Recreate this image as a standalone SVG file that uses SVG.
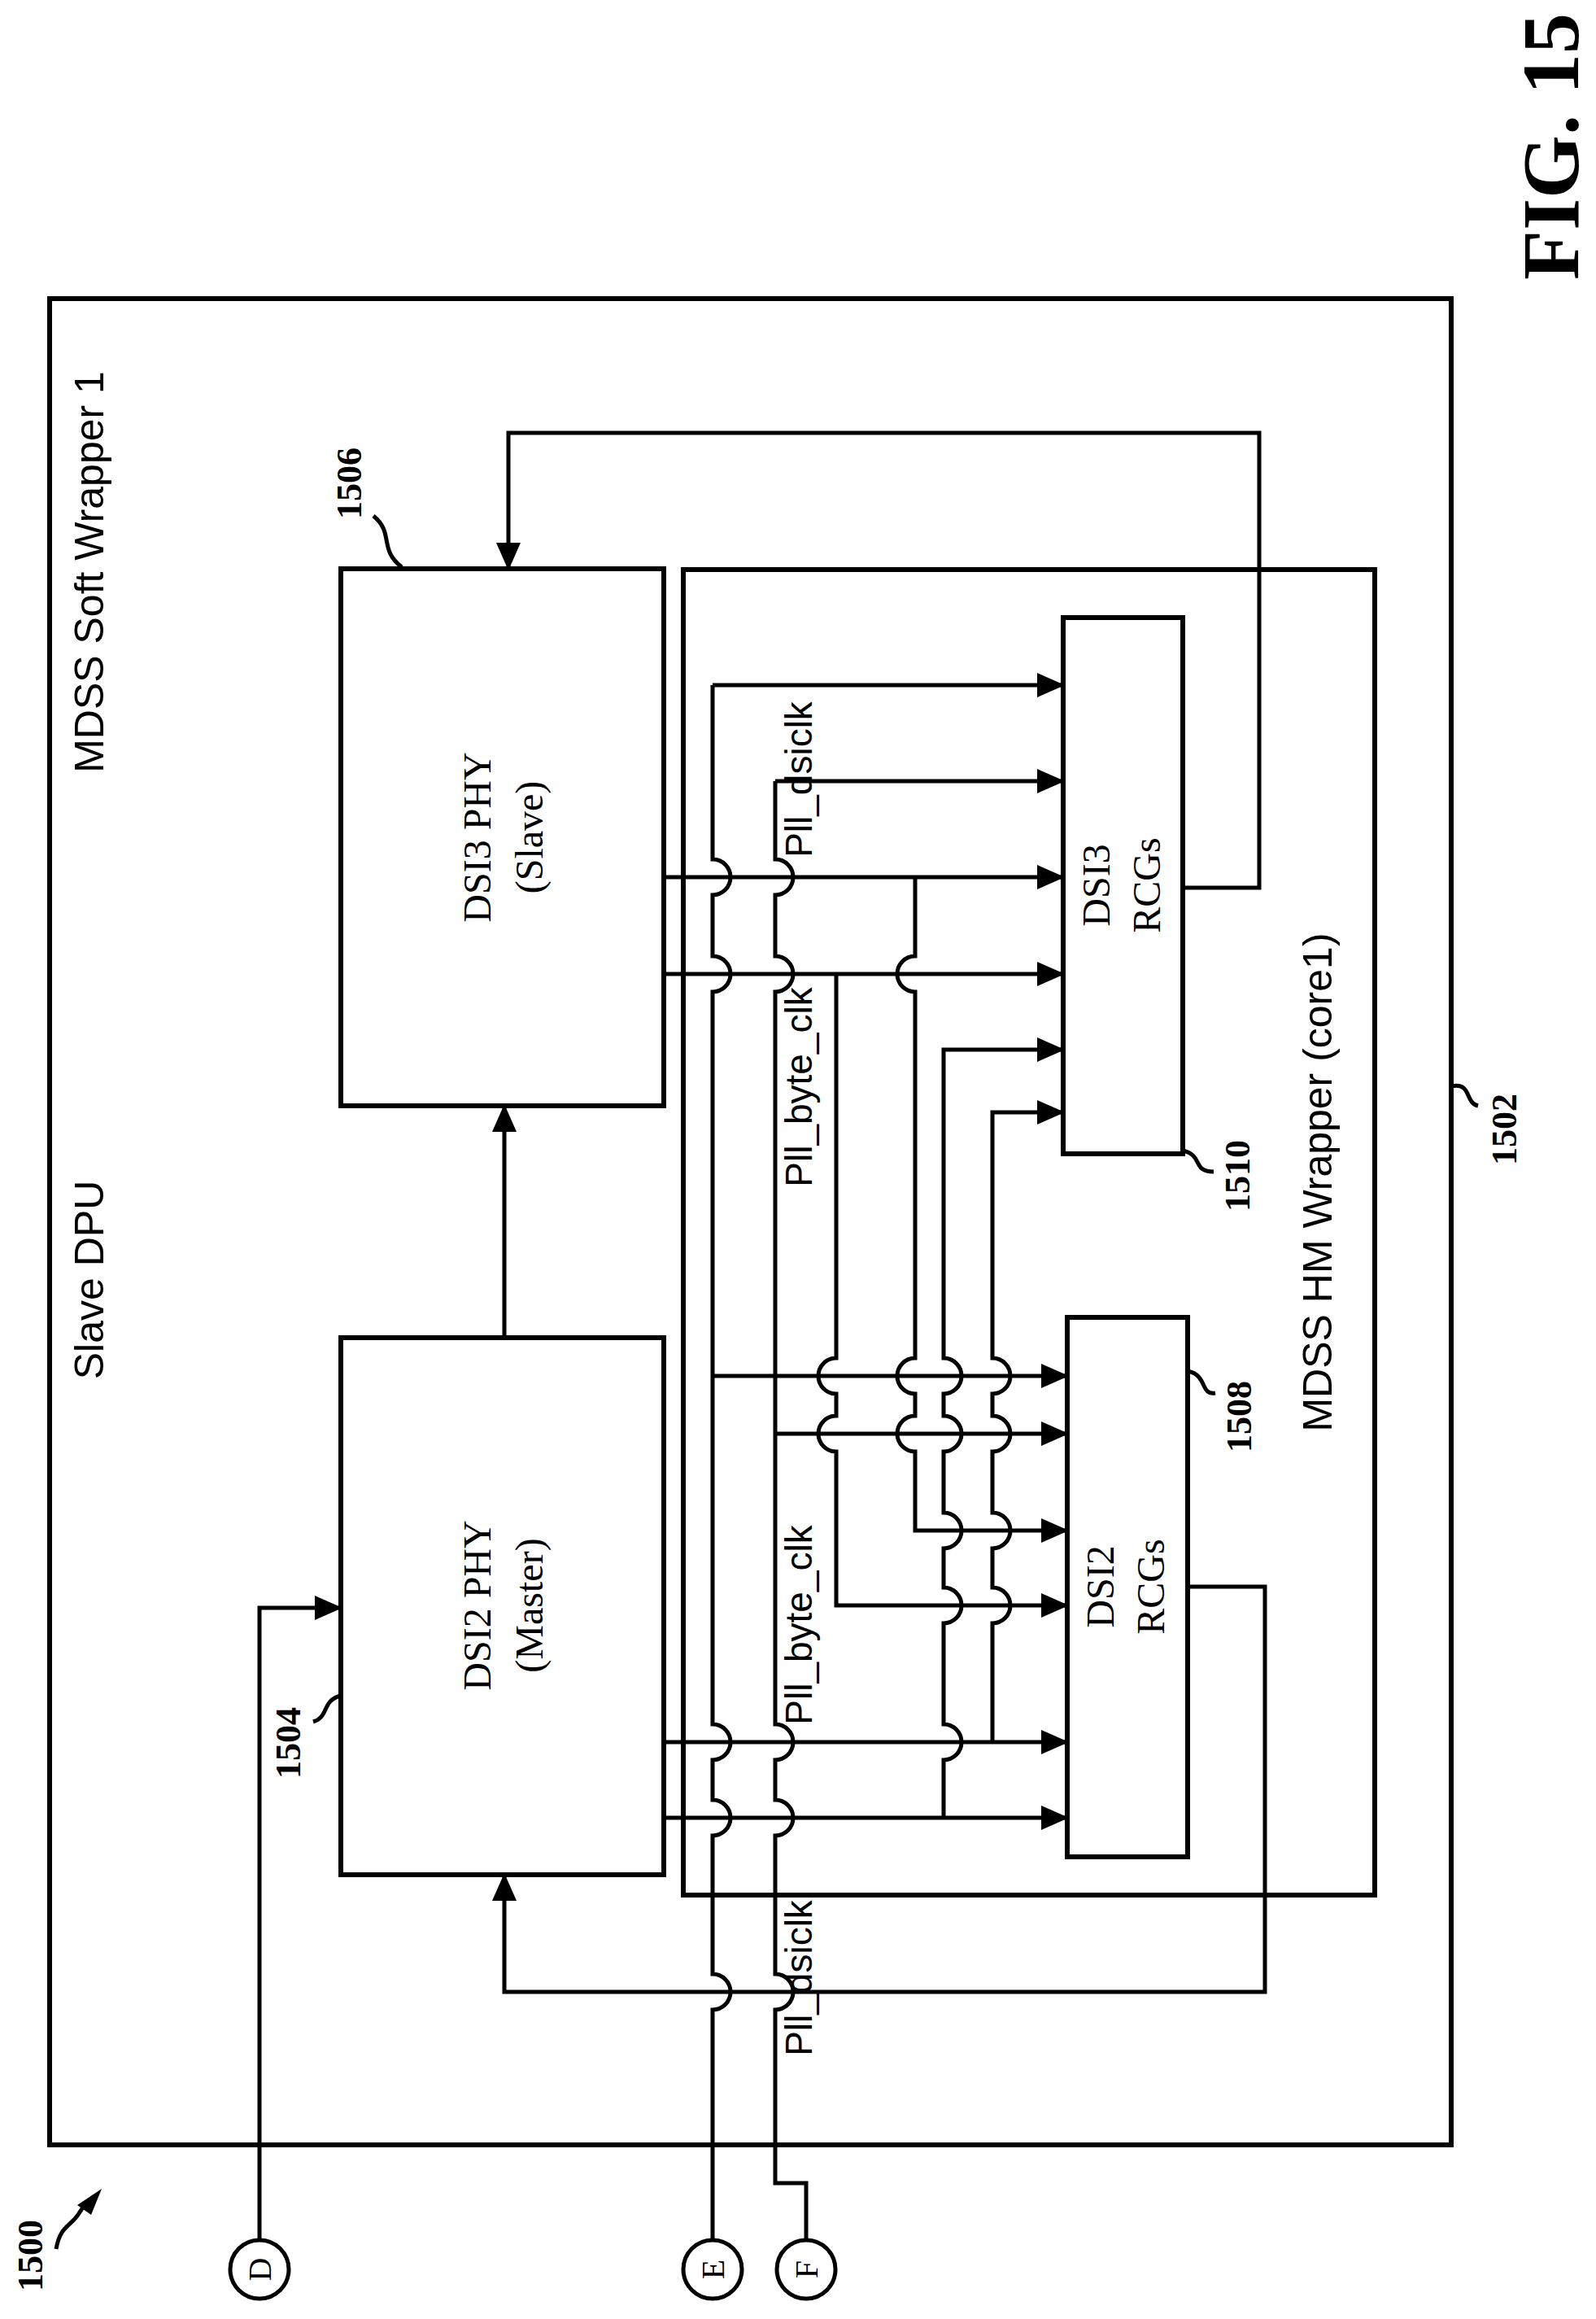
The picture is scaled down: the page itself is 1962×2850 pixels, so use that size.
<svg xmlns="http://www.w3.org/2000/svg" width="1962" height="2850" viewBox="0 0 1962 2850">
<style>
.b{fill:none;stroke:#000;stroke-width:6}
.w{fill:none;stroke:#000;stroke-width:5}
.a{fill:none;stroke:#000;stroke-width:5;marker-end:url(#ah)}
.s{font-family:'Liberation Sans',Arial,sans-serif;font-size:50px;text-anchor:middle}
.p{font-family:'Liberation Sans',Arial,sans-serif;font-size:46px;text-anchor:middle}
.t{font-family:'Liberation Serif','Times New Roman',serif;font-size:48px;text-anchor:middle}
.n{font-family:'Liberation Serif','Times New Roman',serif;font-size:44px;font-weight:bold;text-anchor:middle}
</style>
<defs>
<marker id="ah" markerUnits="userSpaceOnUse" markerWidth="34" markerHeight="30" refX="32" refY="15" orient="auto"><path d="M0,0 L34,15 L0,30 Z" fill="#000"/></marker>
</defs>
<rect width="1962" height="2850" fill="#fff"/>
<g id="outer"><rect class="b" x="61" y="367" width="1723" height="2269"/>
<text class="s" transform="translate(127,703) rotate(-90)">MDSS Soft Wrapper 1</text>
<text class="s" transform="translate(127,1573) rotate(-90)">Slave DPU</text></g>
<g id="hm"><rect class="b" x="840" y="700" width="850" height="1629"/>
<text class="s" transform="translate(1637,1453) rotate(-90)">MDSS HM Wrapper (core1)</text></g>
<g id="dsi3phy"><rect class="b" x="419" y="699" width="397" height="660"/>
<text class="t" transform="translate(603,1029) rotate(-90)"><tspan x="0">DSI3 PHY</tspan><tspan x="0" dy="64">(Slave)</tspan></text></g>
<g id="dsi2phy"><rect class="b" x="419" y="1644" width="397" height="660"/>
<text class="t" transform="translate(603,1973) rotate(-90)"><tspan x="0">DSI2 PHY</tspan><tspan x="0" dy="64">(Master)</tspan></text></g>
<g id="dsi3rcg"><rect class="b" x="1307" y="759" width="147" height="659"/>
<text class="t" transform="translate(1364,1088) rotate(-90)"><tspan x="0">DSI3</tspan><tspan x="0" dy="62">RCGs</tspan></text></g>
<g id="dsi2rcg"><rect class="b" x="1312" y="1619" width="148" height="663"/>
<text class="t" transform="translate(1369,1950) rotate(-90)"><tspan x="0">DSI2</tspan><tspan x="0" dy="62">RCGs</tspan></text></g>
<g id="portD"><circle class="w" cx="319" cy="2789" r="36"/><text class="t" style="font-size:40px" transform="translate(333,2789) rotate(-90)">D</text></g>
<g id="portE"><circle class="w" cx="876" cy="2789" r="36"/><text class="t" style="font-size:40px" transform="translate(890,2789) rotate(-90)">E</text></g>
<g id="portF"><circle class="w" cx="991" cy="2789" r="36"/><text class="t" style="font-size:40px" transform="translate(1005,2789) rotate(-90)">F</text></g>
<g id="connectors">
<path class="a" d="M319,2753 V1976 H419"/>
<path class="a" d="M620,1644 V1359"/>
<path class="a" d="M1454,1091 H1548 V532 H625 V699"/>
<path class="a" d="M1460,1950 H1555 V2448 H620 V2304"/>
<path class="a" d="M816,1078 H1307"/>
<path class="a" d="M816,1197 H1307"/>
<path class="a" d="M816,2141 H1312"/>
<path class="a" d="M816,2234 H1312"/>
<path class="w" d="M876,2753 V2470 A22,22 0 0 0 876,2426 V2256 A22,22 0 0 0 876,2212 V2163 A22,22 0 0 0 876,2119 V1219 A22,22 0 0 0 876,1175 V1100 A22,22 0 0 0 876,1056 V842"/>
<path class="a" d="M876,842 H1307"/>
<path class="a" d="M876,1691 H1312"/>
<path class="w" d="M991,2753 V2683 H953 V2470 A22,22 0 0 0 953,2426 V2256 A22,22 0 0 0 953,2212 V2163 A22,22 0 0 0 953,2119 V1219 A22,22 0 0 0 953,1175 V1100 A22,22 0 0 0 953,1056 V960"/>
<path class="a" d="M953,960 H1307"/>
<path class="a" d="M953,1762 H1312"/>
<path class="a" d="M1125,1078 V1175 A22,22 0 0 0 1125,1219 V1669 A22,22 0 0 0 1125,1713 V1740 A22,22 0 0 0 1125,1784 V1881 H1312"/>
<path class="a" d="M1028,1197 V1669 A22,22 0 0 0 1028,1713 V1740 A22,22 0 0 0 1028,1784 V1973 H1312"/>
<path class="a" d="M1160,2234 V2163 A22,22 0 0 0 1160,2119 V1995 A22,22 0 0 0 1160,1951 V1903 A22,22 0 0 0 1160,1859 V1784 A22,22 0 0 0 1160,1740 V1713 A22,22 0 0 0 1160,1669 V1290 H1307"/>
<path class="a" d="M1220,2141 V1995 A22,22 0 0 0 1220,1951 V1903 A22,22 0 0 0 1220,1859 V1784 A22,22 0 0 0 1220,1740 V1713 A22,22 0 0 0 1220,1669 V1367 H1307"/>
</g>
<g id="labels">
<text class="p" transform="translate(998,958) rotate(-90)">Pll_dsiclk</text>
<text class="p" transform="translate(998,1336) rotate(-90)">Pll_byte_clk</text>
<text class="p" transform="translate(998,1997) rotate(-90)">Pll_byte_clk</text>
<text class="p" transform="translate(998,2431) rotate(-90)">Pll_dsiclk</text>
<text class="n" transform="translate(369,2142) rotate(-90)">1504</text>
<path class="w" d="M385,2116 C405,2110 395,2090 419,2084"/>
<text class="n" transform="translate(444,594) rotate(-90)">1506</text>
<path class="w" d="M459,634 C485,655 465,675 494,697"/>
<text class="n" transform="translate(1538,1741) rotate(-90)">1508</text>
<path class="w" d="M1460,1685 C1485,1690 1475,1715 1494,1712"/>
<text class="n" transform="translate(1536,1445) rotate(-90)">1510</text>
<path class="w" d="M1454,1414 C1480,1420 1465,1440 1492,1440"/>
<text class="n" transform="translate(1864,1388) rotate(-90)">1502</text>
<path class="w" d="M1784,1335 C1810,1330 1800,1355 1817,1359"/>
<text class="n" transform="translate(52,2772) rotate(-90)">1500</text>
<path class="w" d="M69,2764 C75,2730 90,2740 105,2706"/>
<path d="M95,2710 L125,2690 L112,2722 Z" fill="#000"/>
<text class="n" style="font-size:100px" transform="translate(1940,180) rotate(-90)">FIG. 15</text>
</g>
</svg>
